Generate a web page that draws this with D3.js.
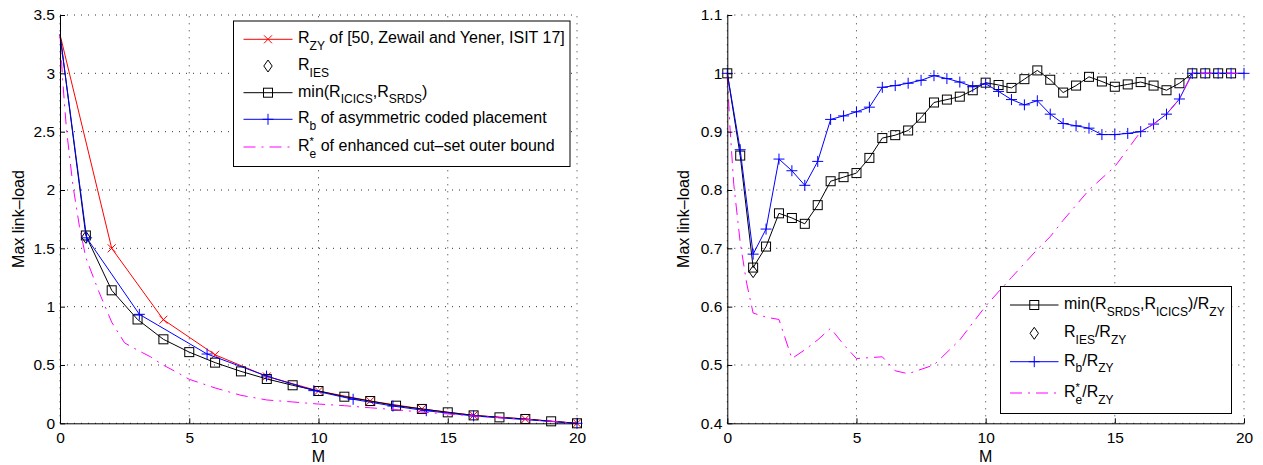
<!DOCTYPE html>
<html><head><meta charset="utf-8">
<script src="https://cdn.jsdelivr.net/npm/d3@7"></script>
<style>
body{margin:0;background:#fff}
svg{display:block}
text{font-family:"Liberation Sans",Arial,Helvetica,sans-serif;fill:#000;white-space:pre}
</style></head>
<body><svg id="c" width="1263" height="465"></svg>
<script>
// ---------- data ----------
const xTicks = [0, 5, 10, 15, 20];
const leftYTicks = [0, 0.5, 1, 1.5, 2, 2.5, 3, 3.5];
const rightYTicks = [0.4, 0.5, 0.6, 0.7, 0.8, 0.9, 1.0, 1.1];
const xLabel = "M";
const yLabel = "Max link–load";

// left panel: link loads
const leftZY_M = [0, 2, 4, 6, 8, 10, 12, 14, 16, 18, 20];
const leftZY   = [3.333, 1.5, 0.888, 0.587, 0.402, 0.277, 0.191, 0.123, 0.068, 0.037, 0];
const leftIES_M = [1];
const leftIES   = [1.595];
const leftMin_M = [0, 1, 2, 3, 4, 5, 6, 7, 8, 9, 10, 11, 12, 13, 14, 15, 16, 17, 18, 19, 20];
const leftMin   = [3.333, 1.61, 1.14, 0.89, 0.72, 0.61, 0.52, 0.445, 0.38, 0.326, 0.277, 0.228, 0.191, 0.151, 0.123, 0.094, 0.068, 0.051, 0.037, 0.017, 0];
const leftB_M = [0, 1.03, 3.07, 5.69, 7.99, 9.82, 11.34, 12.88, 14.17, 16.0, 20];
const leftB   = [3.333, 1.59, 0.934, 0.594, 0.405, 0.28, 0.206, 0.148, 0.108, 0.063, 0];
const leftE_M = [0, 0.1, 0.25, 0.5, 0.75, 1, 1.5, 2, 2.5, 3, 3.5, 4, 4.5, 5, 6, 7, 8, 9, 10, 11, 12, 13, 14, 15, 16, 17, 18, 19, 20];
const leftE   = [3.333, 2.95, 2.52, 2.04, 1.69, 1.42, 1.13, 0.867, 0.689, 0.627, 0.57, 0.498, 0.44, 0.377, 0.303, 0.24, 0.2, 0.183, 0.165, 0.151, 0.133, 0.116, 0.096, 0.08, 0.063, 0.048, 0.034, 0.017, 0];

// right panel: ratios to R_ZY
const rightMin_M = [0, 0.5, 1, 1.5, 2, 2.5, 3, 3.5, 4, 4.5, 5, 5.5, 6, 6.5, 7, 7.5, 8, 8.5, 9, 9.5, 10, 10.5, 11, 11.5, 12, 12.5, 13, 13.5, 14, 14.5, 15, 15.5, 16, 16.5, 17, 17.5, 18, 18.5, 19, 19.5];
const rightMin   = [1.0, 0.859, 0.667, 0.703, 0.76, 0.752, 0.742, 0.774, 0.815, 0.822, 0.829, 0.855, 0.889, 0.894, 0.902, 0.924, 0.95, 0.955, 0.96, 0.971, 0.984, 0.98, 0.975, 0.99, 1.005, 0.989, 0.967, 0.979, 0.994, 0.986, 0.977, 0.981, 0.985, 0.979, 0.971, 0.983, 1.0, 1.0, 1.0, 1.0];
const rightIES_M = [1];
const rightIES   = [0.66];
const rightB_M = [0, 0.5, 1, 1.5, 2, 2.5, 3, 3.5, 4, 4.5, 5, 5.5, 6, 6.5, 7, 7.5, 8, 8.5, 9, 9.5, 10, 10.5, 11, 11.5, 12, 12.5, 13, 13.5, 14, 14.5, 15, 15.5, 16, 16.5, 17, 17.5, 18, 18.5, 19, 19.5, 20];
const rightB   = [1.0, 0.869, 0.69, 0.733, 0.853, 0.833, 0.808, 0.849, 0.921, 0.927, 0.934, 0.942, 0.976, 0.979, 0.983, 0.988, 0.996, 0.991, 0.985, 0.977, 0.982, 0.969, 0.955, 0.946, 0.953, 0.93, 0.914, 0.91, 0.906, 0.895, 0.895, 0.897, 0.9, 0.913, 0.93, 0.956, 1.0, 1.0, 1.0, 1.0, 1.0];
const rightE_M = [0, 0.1, 0.25, 0.5, 0.75, 1, 1.5, 2, 2.5, 3, 3.5, 4, 4.5, 5, 6, 6.5, 7, 8, 9, 10, 11, 12, 12.5, 13, 14, 15, 16, 16.5, 17, 17.5, 18, 19, 20];
const rightE   = [1.0, 0.91, 0.81, 0.71, 0.64, 0.589, 0.582, 0.578, 0.511, 0.526, 0.543, 0.563, 0.535, 0.511, 0.514, 0.49, 0.485, 0.5, 0.543, 0.601, 0.65, 0.698, 0.72, 0.748, 0.8, 0.84, 0.9, 0.913, 0.93, 0.956, 1.0, 1.0, 1.0];

// legend labels: [text, kind] ; kind: n normal, sub, sup, subs (subscript stacked under previous superscript)
const leftLegendLabels = [
  [["R"], ["ZY", "sub"], [" of [50, Zewail and Yener, ISIT 17]"]],
  [["R"], ["IES", "sub"]],
  [["min(R"], ["ICICS", "sub"], [",R"], ["SRDS", "sub"], [")"]],
  [["R"], ["b", "sub"], [" of asymmetric coded placement"]],
  [["R"], ["*", "sup"], ["e", "subs"], [" of enhanced cut–set outer bound"]]
];
const rightLegendLabels = [
  [["min(R"], ["SRDS", "sub"], [",R"], ["ICICS", "sub"], [")/R"], ["ZY", "sub"]],
  [["R"], ["IES", "sub"], ["/R"], ["ZY", "sub"]],
  [["R"], ["b", "sub"], ["/R"], ["ZY", "sub"]],
  [["R"], ["*", "sup"], ["e", "subs"], ["/R"], ["ZY", "sub"]]
];

// ---------- drawing ----------
const svg = d3.select("#c");
const RED = "#ff0000", BLUE = "#0000ff", MAG = "#ff00ff", BLK = "#000000";
const DASHDOT = "12,6,2,6";

function drawMarker(g, type, cx, cy, color) {
  if (type === "x") {
    const s = 4;
    g.append("path").attr("d", `M${cx-s},${cy-s}L${cx+s},${cy+s}M${cx-s},${cy+s}L${cx+s},${cy-s}`)
      .attr("stroke", color).attr("stroke-width", 1).attr("fill", "none");
  } else if (type === "square") {
    const s = 4.5;
    g.append("rect").attr("x", cx-s).attr("y", cy-s).attr("width", 2*s).attr("height", 2*s)
      .attr("stroke", color).attr("stroke-width", 1).attr("fill", "none");
  } else if (type === "diamond") {
    g.append("path").attr("d", `M${cx},${cy-6}L${cx+4.2},${cy}L${cx},${cy+6}L${cx-4.2},${cy}Z`)
      .attr("stroke", color).attr("stroke-width", 1).attr("fill", "none");
  } else if (type === "plus") {
    const s = 5.5;
    g.append("path").attr("d", `M${cx-s},${cy}L${cx+s},${cy}M${cx},${cy-s}L${cx},${cy+s}`)
      .attr("stroke", color).attr("stroke-width", 1).attr("fill", "none");
  }
}

function richText(g, x, y, parts, size) {
  let cx = x, prevStart = x;
  parts.forEach(p => {
    const k = p[1] || "n";
    let sz = size, dy = 0;
    if (k === "sub" || k === "subs") { sz = size * 0.75; dy = 6.5; }
    if (k === "sup") { sz = size * 0.7; dy = -6; }
    const startX = (k === "subs") ? prevStart : cx;
    const t = g.append("text").attr("x", startX).attr("y", y + dy)
      .attr("xml:space", "preserve").attr("font-size", sz).text(p[0]);
    const w = t.node().getComputedTextLength();
    prevStart = startX;
    cx = Math.max(cx, startX + w);
  });
}

function panel(cfg) {
  const x = d3.scaleLinear().domain([0, 20]).range([cfg.x0, cfg.x1]);
  const y = d3.scaleLinear().domain(cfg.yDomain).range([423.3, 15]);
  const g = svg.append("g");

  // grid
  const grid = g.append("g").attr("stroke", "#333").attr("stroke-width", 1).attr("stroke-dasharray", "1,6");
  cfg.xTicks.forEach(v => grid.append("line").attr("x1", x(v)).attr("x2", x(v)).attr("y1", y.range()[0]).attr("y2", y.range()[1]));
  cfg.yTicks.forEach(v => grid.append("line").attr("y1", y(v)).attr("y2", y(v)).attr("x1", x.range()[0]).attr("x2", x.range()[1]));

  // series
  const line = d3.line().x(d => x(d[0])).y(d => y(d[1]));
  cfg.series.forEach(s => {
    const pts = s.m.map((m, i) => [m, s.v[i]]);
    if (s.line) {
      const p = g.append("path").attr("d", line(pts)).attr("fill", "none")
        .attr("stroke", s.color).attr("stroke-width", s.width || 1);
      if (s.dash) p.attr("stroke-dasharray", s.dash);
    }
    if (s.marker) {
      pts.forEach((d, i) => { if (i >= (s.markFrom || 0)) drawMarker(g, s.marker, x(d[0]), y(d[1]), s.color); });
    }
  });

  // axes
  const ax = g.append("g").attr("transform", `translate(0,${y.range()[0]})`)
    .call(d3.axisBottom(x).tickValues(cfg.xTicks).tickSize(-5).tickSizeOuter(0).tickPadding(9).tickFormat(d3.format("~g")));
  const ay = g.append("g").attr("transform", `translate(${x.range()[0]},0)`)
    .call(d3.axisLeft(y).tickValues(cfg.yTicks).tickSize(-5).tickSizeOuter(0).tickPadding(5).tickFormat(d3.format("~g")));
  [ax, ay].forEach(a => {
    a.attr("font-family", null).attr("font-size", null);
    a.selectAll("path.domain").attr("stroke", "#000").attr("stroke-width", 1);
    a.selectAll(".tick line").attr("stroke", "#000");
    a.selectAll("text").attr("font-size", 15.5).attr("fill", "#000");
  });

  // axis labels
  g.append("text").attr("x", (cfg.x0 + cfg.x1) / 2).attr("y", 461.5).attr("text-anchor", "middle")
    .attr("font-size", 16).text(xLabel);
  g.append("text").attr("transform", `translate(${cfg.yLabelX},219) rotate(-90)`).attr("text-anchor", "middle")
    .attr("font-size", 16).text(yLabel);

  // legend
  const L = cfg.legend;
  const lg = g.append("g");
  lg.append("rect").attr("x", L.x).attr("y", L.y).attr("width", L.w).attr("height", L.h)
    .attr("fill", "#fff").attr("stroke", "#000").attr("stroke-width", 1);
  L.items.forEach((it, i) => {
    const ly = L.rows[i];
    const s = it.series;
    if (s.line) {
      const p = lg.append("line").attr("x1", L.lx0).attr("x2", L.lx1).attr("y1", ly).attr("y2", ly)
        .attr("stroke", s.color).attr("stroke-width", 1);
      if (s.dash) p.attr("stroke-dasharray", s.dash);
    }
    if (s.marker) drawMarker(lg, s.marker, (L.lx0 + L.lx1) / 2, ly, s.color);
    richText(lg, L.tx, ly + 4, it.label, 16);
  });
}

// left panel
const lZY  = {m: leftZY_M, v: leftZY, color: RED, line: true, marker: "x", markFrom: 1};
const lIES = {m: leftIES_M, v: leftIES, color: BLK, line: false, marker: "diamond"};
const lMin = {m: leftMin_M, v: leftMin, color: BLK, line: true, marker: "square", markFrom: 1};
const lB   = {m: leftB_M, v: leftB, color: BLUE, line: true, marker: "plus", markFrom: 1};
const lE   = {m: leftE_M, v: leftE, color: MAG, line: true, dash: DASHDOT};
panel({
  x0: 60, x1: 577, yDomain: [0, 3.5], xTicks: xTicks, yTicks: leftYTicks, yLabelX: 23.5,
  series: [lZY, lIES, lMin, lB, lE],
  legend: {x: 233.5, y: 21, w: 336.5, h: 145.5, lx0: 243.5, lx1: 292.5, tx: 298,
    rows: [39.3, 66, 92.7, 119.3, 147],
    items: [lZY, lIES, lMin, lB, lE].map((s, i) => ({series: s, label: leftLegendLabels[i]}))}
});

// right panel
const rMin = {m: rightMin_M, v: rightMin, color: BLK, line: true, marker: "square"};
const rIES = {m: rightIES_M, v: rightIES, color: BLK, line: false, marker: "diamond"};
const rB   = {m: rightB_M, v: rightB, color: BLUE, line: true, marker: "plus"};
const rE   = {m: rightE_M, v: rightE, color: MAG, line: true, dash: DASHDOT};
panel({
  x0: 727.3, x1: 1244, yDomain: [0.4, 1.1], xTicks: xTicks, yTicks: rightYTicks, yLabelX: 689,
  series: [rMin, rIES, rB, rE],
  legend: {x: 1000.5, y: 286.5, w: 231, h: 127, lx0: 1010, lx1: 1058.5, tx: 1064,
    rows: [305, 333.3, 361.7, 393],
    items: [rMin, rIES, rB, rE].map((s, i) => ({series: s, label: rightLegendLabels[i]}))}
});
</script>
</body></html>
